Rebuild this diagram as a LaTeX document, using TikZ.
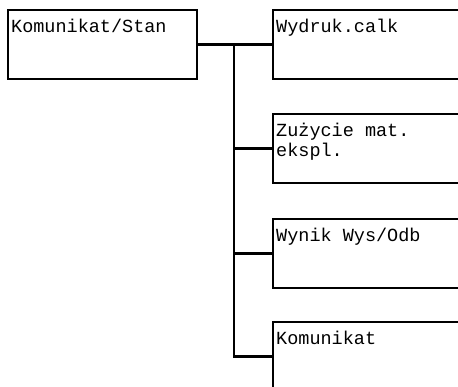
\documentclass[tikz,border=0pt]{standalone}
\usepackage{fontspec}
\setmonofont{Liberation Mono}
\begin{document}
\begin{tikzpicture}[x=1pt,y=-1pt,
  box/.style={draw=black, line width=2.2pt, anchor=north west, inner sep=0pt, minimum height=69pt},
  txt/.style={anchor=base west, inner sep=0pt, font=\ttfamily\fontsize{18.5}{20}\selectfont, align=left},
  conn/.style={draw=black, line width=2.2pt}]
\useasboundingbox (0,0) rectangle (458,387);
\clip (0,0) rectangle (458,387);
\fill[white] (0,0) rectangle (458,387);
\node[box, minimum width=189pt] (a) at (7,9) {};
\node[box, minimum width=208pt] (b1) at (272,9) {};
\node[box, minimum width=208pt] (b2) at (272,113) {};
\node[box, minimum width=208pt] (b3) at (272,218) {};
\node[box, minimum width=208pt] (b4) at (272,321) {};
\node[txt] (ta) at (11,32.5) {Komunikat/Stan};
\node[txt] (t1) at (276,32.5) {Wydruk.calk};
\node[txt] (t2) at (276,136.5) {Zużycie mat.};
\node[txt] (t2b) at (276,156.5) {ekspl.};
\node[txt] (t3) at (276,241.5) {Wynik Wys/Odb};
\node[txt] (t4) at (276,344.5) {Komunikat};
\coordinate (j) at (234,43.5);
\draw[conn] (a.east) -- (b1.west);
\draw[conn] (j) |- (b4.west);
\draw[conn] (j |- b2.west) -- (b2.west);
\draw[conn] (j |- b3.west) -- (b3.west);
\end{tikzpicture}
\end{document}
